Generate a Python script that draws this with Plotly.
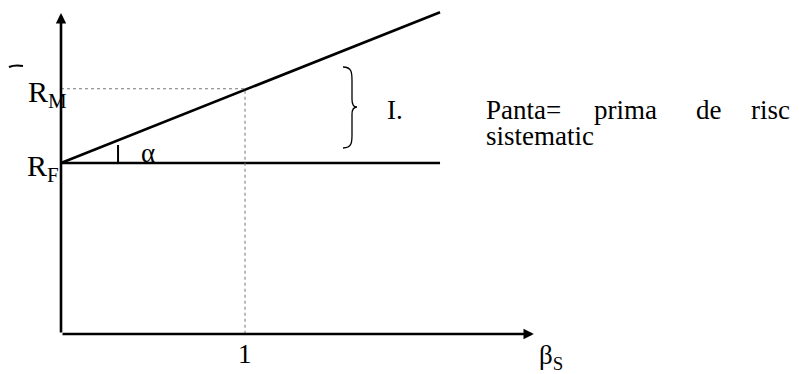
import plotly.graph_objects as go

# ---- data (arbitrary return units) ----
beta_market = 1.0          # beta of the market portfolio
r_free = 2.28              # R_F level
r_market = 3.27            # R_M level
sml_beta = [0.0, 2.06]     # security market line, beta values
sml_return = [2.28, 4.29]  # security market line, returns
rf_line_beta = [0.0, 2.06]
rf_line_return = [2.28, 2.28]
x_axis_end = 2.57
y_axis_end = 4.28
alpha_mark_beta = 0.31
alpha_mark_top = 2.52

labels = {
    "rm": "R<sub>M</sub>",
    "rf": "R<sub>F</sub>",
    "one": "1",
    "beta": "β<sub>S</sub>",
    "alpha": "α",
    "roman": "I.",
    "words": ["Panta=", "prima", "de", "risc"],
    "line2": "sistematic",
}

# ---- layout helpers: page pixels of the 799x374 window ----
OFF = 8                      # default page body margin
W, H = 799 - OFF, 374 - OFF  # figure size that fits in the window
X0_PX, PX_PER_BETA = 61, 184  # page px of beta=0 axis
Y0_PX, PX_PER_R = 334, 75     # page px of the x axis
xr = [(OFF - X0_PX) / PX_PER_BETA, (OFF + W - X0_PX) / PX_PER_BETA]
yr = [(Y0_PX - OFF - H) / PX_PER_R, (Y0_PX - OFF) / PX_PER_R]

def bx(px):
    return (px - X0_PX) / PX_PER_BETA

def ry(py):
    return (Y0_PX - py) / PX_PER_R

FONT = "Liberation Serif"
FS = 27
BLACK = "#000000"

fig = go.Figure()

# security market line
fig.add_trace(go.Scatter(x=sml_beta, y=sml_return, mode="lines",
                         line=dict(color=BLACK, width=2.6), hoverinfo="skip"))
# risk-free horizontal line
fig.add_trace(go.Scatter(x=rf_line_beta, y=rf_line_return, mode="lines",
                         line=dict(color=BLACK, width=2.6), hoverinfo="skip"))
# dotted guides to (1, R_M)
fig.add_trace(go.Scatter(x=[0, beta_market, beta_market], y=[r_market, r_market, 0],
                         mode="lines", line=dict(color="#777777", width=1, dash="dot"),
                         hoverinfo="skip"))
# small angle tick
fig.add_trace(go.Scatter(x=[alpha_mark_beta, alpha_mark_beta], y=[r_free, alpha_mark_top],
                         mode="lines", line=dict(color=BLACK, width=2), hoverinfo="skip"))

# brace "}"
bxl, bxm, bxs = bx(343), bx(357), bx(352)
bt, bm, bb = ry(67), ry(107), ry(148)
brace_path = (
    f"M {bxl},{bt} C {bxs},{bt} {bxs},{bt-0.08} {bxs},{bt-0.18} "
    f"L {bxs},{bm+0.1} C {bxs},{bm+0.03} {bxm-0.02},{bm} {bxm},{bm} "
    f"C {bxm-0.02},{bm} {bxs},{bm-0.03} {bxs},{bm-0.1} "
    f"L {bxs},{bb+0.18} C {bxs},{bb+0.08} {bxs},{bb} {bxl},{bb}"
)
fig.add_shape(type="path", path=brace_path, xref="x", yref="y",
              line=dict(color=BLACK, width=1.3))

# small stray mark at top-left
fig.add_shape(type="path", xref="x", yref="y",
              path=f"M {bx(9)},{ry(67)} Q {bx(15)},{ry(64.5)} {bx(23)},{ry(66)}",
              line=dict(color=BLACK, width=2))

# axes with arrowheads
for (x, y) in [(x_axis_end, 0), (0, y_axis_end)]:
    fig.add_annotation(x=x, y=y, ax=0, ay=0, xref="x", yref="y", axref="x", ayref="y",
                       showarrow=True, arrowhead=2, arrowsize=0.8, arrowwidth=2.6,
                       arrowcolor=BLACK, text="")

def txt(text, x, y, xanchor="left", yanchor="middle", size=FS, xshift=0, yshift=0):
    fig.add_annotation(x=x, y=y, xref="x", yref="y", text=text, showarrow=False,
                       xanchor=xanchor, yanchor=yanchor, xshift=xshift, yshift=yshift,
                       font=dict(family=FONT, size=size, color=BLACK))

txt(labels["rm"], bx(69), r_market, xanchor="right", yshift=-5, size=30)
txt(labels["rf"], bx(61), r_free, xanchor="right", yshift=-5, size=30)
txt(labels["one"], beta_market, ry(354), xanchor="center")
txt(labels["beta"], bx(537), ry(357))
txt(labels["alpha"], bx(139), ry(153))
txt(labels["roman"], bx(385), ry(110))
for w, px in zip(labels["words"], [484, 592, 694, 749]):
    txt(w, bx(px), ry(110))
txt(labels["line2"], bx(484), ry(136))

fig.update_layout(
    width=W, height=H, margin=dict(l=0, r=0, t=0, b=0),
    paper_bgcolor="white", plot_bgcolor="white", showlegend=False,
    xaxis=dict(range=xr, visible=False, fixedrange=True),
    yaxis=dict(range=yr, visible=False, fixedrange=True),
)
fig.write_html("out.html")
